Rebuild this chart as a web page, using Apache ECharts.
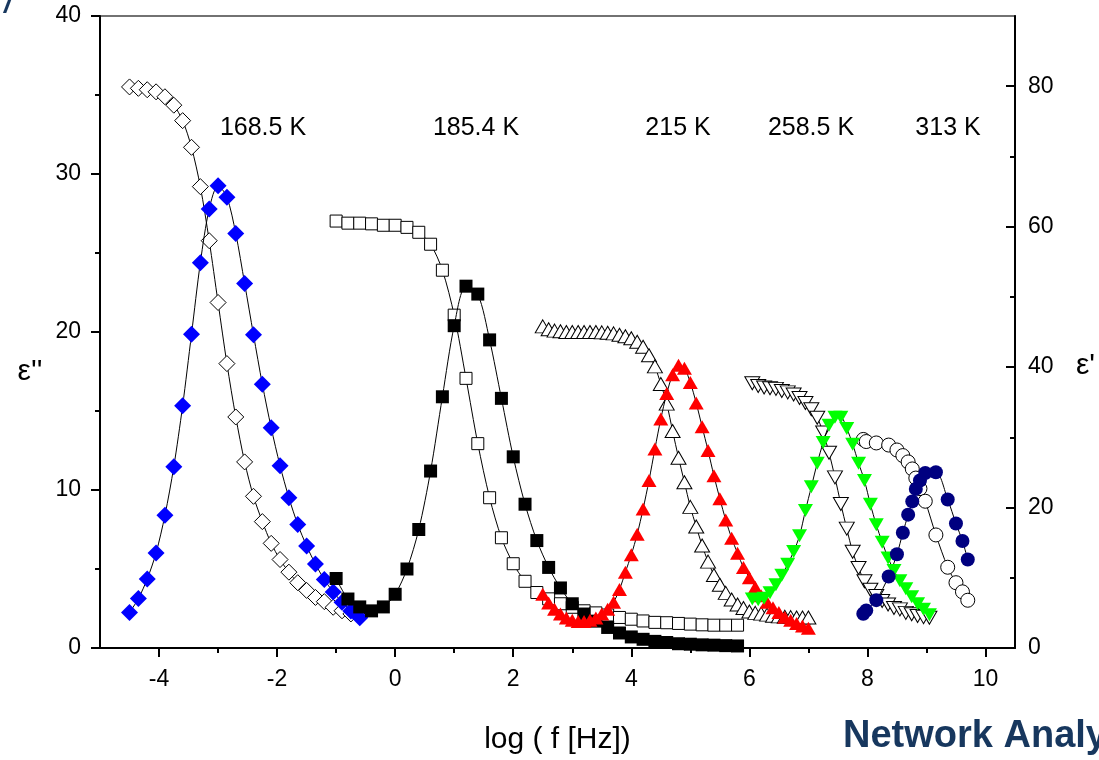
<!DOCTYPE html>
<html><head><meta charset="utf-8">
<script src="https://cdn.jsdelivr.net/npm/echarts@6/dist/echarts.min.js"></script>
<style>html,body{margin:0;padding:0;background:#fff}#c{width:1099px;height:760px}</style>
</head><body><div id="c"></div>
<script>
// ---- data ----
const xTickLabels = [-4,-2,0,2,4,6,8,10];
const xMinorTicks = [-3,-1,1,3,5,7,9];
const yRightTicks = [0,20,40,60,80];
const yRightMinor = [10,30,50,70];
const tempLabels = ['168.5 K','185.4 K','215 K','258.5 K','313 K'];

const x168 = [-4.5,-4.35,-4.2,-4.05,-3.9,-3.75,-3.6,-3.45,-3.3,-3.15,-3.0,-2.85,-2.7,-2.55,-2.4,-2.25,-2.1,-1.95,-1.8,-1.65,-1.5,-1.35,-1.2,-1.05,-0.9,-0.75,-0.6];
const epsP168 = [79.9,79.7,79.5,79.2,78.5,77.3,75.1,71.3,65.7,58.0,49.2,40.5,32.9,26.5,21.6,18.0,14.9,12.6,10.8,9.3,8.2,7.2,6.6,5.8,5.3,4.85,4.45];
const epsPP168 = [2.24,3.13,4.37,6.02,8.40,11.47,15.34,19.86,24.39,27.79,29.26,28.53,26.23,23.07,19.83,16.70,13.94,11.54,9.51,7.82,6.46,5.31,4.33,3.55,2.90,2.34,1.92];

const x185 = [-1.0,-0.8,-0.6,-0.4,-0.2,0,0.2,0.4,0.6,0.8,1.0,1.2,1.4,1.6,1.8,2.0,2.2,2.4,2.6,2.8,3.0,3.2,3.4,3.6,3.8,4.0,4.2,4.4,4.6,4.8,5.0,5.2,5.4,5.6,5.8];
const epsP185 = [60.8,60.5,60.5,60.4,60.2,60.2,59.9,59.2,57.5,53.8,47.4,38.4,29.1,21.4,15.7,12.0,9.5,7.9,7.0,6.3,5.8,5.3,5.0,4.7,4.35,4.1,3.85,3.65,3.6,3.5,3.4,3.3,3.25,3.25,3.25];
const epsPP185 = [4.4,3.1,2.6,2.35,2.6,3.4,5.0,7.5,11.2,15.9,20.4,22.9,22.4,19.5,15.8,12.1,9.1,6.8,5.1,3.8,2.8,2.15,1.7,1.3,0.95,0.7,0.55,0.42,0.35,0.27,0.24,0.2,0.18,0.15,0.13];

const x215 = [2.5,2.6,2.7,2.8,2.9,3.0,3.1,3.2,3.3,3.4,3.5,3.6,3.7,3.8,3.9,4.0,4.1,4.2,4.3,4.4,4.5,4.6,4.7,4.8,4.9,5.0,5.1,5.2,5.3,5.4,5.5,5.6,5.7,5.8,5.9,6.0,6.1,6.2,6.3,6.4,6.5,6.6,6.7,6.8,6.9,7.0];
const epsP215 = [45.8,45.4,45.2,45.1,45.0,45.0,45.0,45.0,45.0,45.0,44.95,44.9,44.8,44.6,44.4,44.1,43.6,42.9,41.7,40.1,37.6,34.8,30.9,27.1,23.6,20.1,17.3,14.6,12.3,10.4,9.0,7.85,6.9,6.2,5.7,5.2,5.0,4.9,4.75,4.6,4.5,4.45,4.4,4.35,4.35,4.35];
const epsPP215 = [3.4,2.85,2.45,2.15,1.9,1.75,1.67,1.67,1.75,1.9,2.15,2.45,2.9,3.7,4.8,5.9,7.2,8.8,10.6,12.6,14.5,16.1,17.3,17.9,17.7,16.8,15.5,14.0,12.5,10.9,9.45,8.1,6.95,6.0,5.1,4.45,3.85,3.3,2.9,2.55,2.25,1.95,1.75,1.55,1.4,1.25];

const x258 = [6.05,6.15,6.25,6.35,6.45,6.55,6.65,6.75,6.85,6.95,7.05,7.15,7.25,7.35,7.45,7.55,7.65,7.75,7.85,7.95,8.05,8.15,8.25,8.35,8.45,8.55,8.65,8.75,8.85,8.95,9.05];
const epsP258 = [37.7,37.3,37.1,37.0,36.9,36.6,36.4,36.1,35.6,34.9,34.0,32.8,30.7,27.8,24.3,20.5,17.0,13.7,11.4,9.5,8.3,7.4,6.7,6.2,5.7,5.5,5.0,4.8,4.56,4.4,4.3];
const epsPP258 = [3.1,3.05,3.15,3.5,4.0,4.6,5.3,6.1,7.1,8.7,10.2,11.7,13.0,14.1,14.6,14.6,13.9,12.9,11.7,10.6,9.1,7.8,6.7,5.7,4.9,4.25,3.75,3.25,2.8,2.45,2.1];

const x313 = [7.93,7.98,8.15,8.36,8.5,8.6,8.69,8.76,8.82,8.89,8.98,9.16,9.36,9.5,9.61,9.7];
const epsP313 = [29.7,29.4,29.2,28.9,28.2,27.4,26.5,25.5,24.2,22.7,20.9,16.1,11.5,9.3,8.0,6.8];
const epsPP313 = [2.17,2.38,3.03,4.53,5.93,7.29,8.44,9.28,10.07,10.6,11.08,11.12,9.4,7.88,6.77,5.6];

// ---- styling / layout ----
const FONT = 'Liberation Sans, Arial, Helvetica, sans-serif';
const tempLabelPos = [[263,128],[476,128],[678,128],[811,128],[948,128]];

function pairs(xs, ys){ return xs.map((x,i)=>[x, ys[i]]); }

function mk(xs, ys, axis, symbol, size, fill, open, rotate){
  return {
    type:'line', xAxisIndex:0, yAxisIndex:axis,
    data: pairs(xs, ys),
    symbol: symbol, symbolSize: size, symbolRotate: rotate||0,
    showAllSymbol: true, smooth: 0.3,
    lineStyle:{color:'#000', width:1},
    itemStyle: open ? {color:'#fff', borderColor:'#000', borderWidth:1}
                    : {color:fill, borderWidth:0},
    emphasis:{disabled:true}, silent:true,
    z: open ? 2 : 3
  };
}

const series = [
  mk(x168, epsP168, 1, 'diamond', 16, null, true),
  mk(x185, epsP185, 1, 'rect', 12, null, true),
  mk(x215, epsP215, 1, 'triangle', [15,13], null, true),
  mk(x258, epsP258, 1, 'triangle', [15,13], null, true, 180),
  mk(x313, epsP313, 1, 'circle', 14, null, true),
  mk(x168, epsPP168, 0, 'diamond', 17, '#0000ff', false),
  mk(x185, epsPP185, 0, 'rect', 13, '#000000', false),
  mk(x215, epsPP215, 0, 'triangle', [15,13], '#ff0000', false),
  mk(x258, epsPP258, 0, 'triangle', [15,13], '#00ff00', false, 180),
  mk(x313, epsPP313, 0, 'circle', 14, '#000080', false)
];

const axisLine = {show:true, onZero:false, lineStyle:{color:'#000', width:2}};
const labelStyle = {color:'#000', fontSize:23, fontFamily:FONT};

const graphics = tempLabels.map((t,i)=>({
  type:'text', x:tempLabelPos[i][0], y:tempLabelPos[i][1],
  style:{text:t, fontSize:25, fontFamily:FONT, fill:'#000', textAlign:'center', textVerticalAlign:'middle'}
}));
graphics.push({type:'text', x:30, y:372, style:{text:"ε''", fontSize:30, fontFamily:FONT, fill:'#000', textAlign:'center', textVerticalAlign:'middle'}});
graphics.push({type:'text', x:1076, y:366, style:{text:"ε'", fontSize:30, fontFamily:FONT, fill:'#000', textAlign:'left', textVerticalAlign:'middle'}});
graphics.push({type:'text', x:843, y:737, style:{text:'Network Analyzer', fontSize:38, fontWeight:'bold', fontFamily:FONT, fill:'#17375e', textAlign:'left', textVerticalAlign:'middle'}});
graphics.push({type:'text', x:4, y:-10, style:{text:'/', fontSize:28, fontWeight:'bold', fontStyle:'italic', fontFamily:FONT, fill:'#17375e', textAlign:'left', textVerticalAlign:'top'}});

const option = {
  animation:false,
  backgroundColor:'#fff',
  grid:{left:100, right:84, top:16, bottom:106, show:true, borderColor:'#444', borderWidth:1.5, containLabel:false},
  xAxis:[
    {type:'value', min:-5, max:10.5, position:'bottom',
     axisLine:axisLine,
     axisTick:{show:true, customValues:xTickLabels, length:9, inside:false, lineStyle:{color:'#000', width:2}},
     axisLabel:{show:true, customValues:xTickLabels, margin:20, ...labelStyle},
     splitLine:{show:false},
     name:'log ( f [Hz])', nameLocation:'middle', nameGap:77,
     nameTextStyle:{fontSize:30, fontFamily:FONT, color:'#000'}},
    {type:'value', min:-5, max:10.5, position:'bottom', gridIndex:0,
     axisLine:{show:false, onZero:false},
     axisTick:{show:true, customValues:xMinorTicks, length:5, inside:false, lineStyle:{color:'#000', width:2}},
     axisLabel:{show:false}, splitLine:{show:false}}
  ],
  yAxis:[
    {type:'value', min:0, max:40, interval:10, position:'left',
     axisLine:axisLine,
     axisTick:{show:true, length:9, inside:false, lineStyle:{color:'#000', width:2}},
     minorTick:{show:true, splitNumber:2, length:5, lineStyle:{color:'#000', width:2}},
     axisLabel:{margin:19, ...labelStyle},
     splitLine:{show:false}, minorSplitLine:{show:false}},
    {type:'value', min:0, max:90, position:'right',
     axisLine:axisLine,
     axisTick:{show:true, customValues:yRightTicks, length:9, inside:true, lineStyle:{color:'#000', width:2}},
     axisLabel:{customValues:yRightTicks, margin:13, ...labelStyle},
     splitLine:{show:false}},
    {type:'value', min:0, max:90, position:'right',
     axisLine:{show:false, onZero:false},
     axisTick:{show:true, customValues:yRightMinor, length:5, inside:true, lineStyle:{color:'#000', width:2}},
     axisLabel:{show:false}, splitLine:{show:false}}
  ],
  graphic: graphics,
  series: series
};

const chart = echarts.init(document.getElementById('c'), null, {renderer:'canvas'});
chart.setOption(option);
</script>
</body></html>
